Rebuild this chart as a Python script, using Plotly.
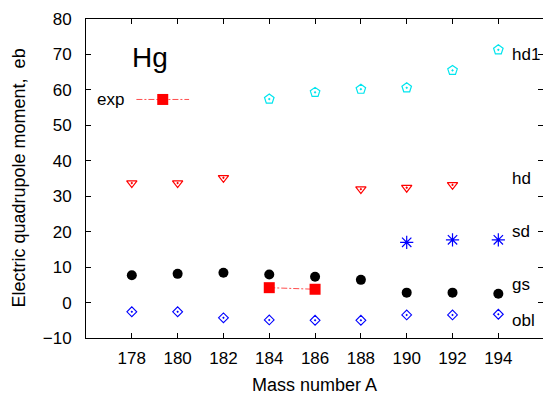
import plotly.graph_objects as go

# Quadrupole moments of Hg isotopes (eb) versus mass number
mass_all = [178, 180, 182, 184, 186, 188, 190, 192, 194]
gs = [7.7, 8.1, 8.4, 7.9, 7.3, 6.4, 2.8, 2.8, 2.5]
obl = [-2.6, -2.6, -4.3, -4.9, -5.0, -5.0, -3.5, -3.5, -3.3]

mass_hd1 = [184, 186, 188, 190, 192, 194]
hd1 = [57.4, 59.3, 60.2, 60.6, 65.5, 71.3]

mass_hd = [178, 180, 182, 188, 190, 192]
hd = [33.7, 33.7, 35.2, 32.0, 32.4, 33.2]

mass_sd = [190, 192, 194]
sd = [17.0, 17.7, 17.7]

mass_exp = [184, 186]
exp_q = [4.2, 3.75]

x_ticks = [178, 180, 182, 184, 186, 188, 190, 192, 194]
y_ticks = [-10, 0, 10, 20, 30, 40, 50, 60, 70, 80]

# Series name labels drawn to the right of the data
label_names = ["hd1", "hd", "sd", "gs", "obl"]
label_levels = [70, 35, 20, 5, -5]

FONT = "Liberation Sans, Arial, sans-serif"
RED = "#ff0000"
BLUE = "#0000ff"
CYAN = "#00e5ee"
DASHDOT = "6px,2px,2px,2px"

fig = go.Figure()

fig.add_trace(go.Scatter(
    x=mass_hd1, y=hd1, mode="markers",
    marker=dict(symbol="pentagon-open-dot", size=10, color=CYAN, line=dict(width=1.2)),
))
fig.add_trace(go.Scatter(
    x=mass_hd, y=hd, mode="markers",
    marker=dict(symbol="triangle-down-open-dot", size=9, color=RED, line=dict(width=1.2)),
))
fig.add_trace(go.Scatter(
    x=mass_sd, y=sd, mode="markers",
    marker=dict(symbol="asterisk-open", size=11, color=BLUE, line=dict(width=1.2, color=BLUE)),
))
fig.add_trace(go.Scatter(
    x=mass_all, y=gs, mode="markers",
    marker=dict(symbol="circle", size=10, color="black"),
))
fig.add_trace(go.Scatter(
    x=mass_all, y=obl, mode="markers",
    marker=dict(symbol="diamond-open-dot", size=7.5, color=BLUE, line=dict(width=1.1)),
))
fig.add_trace(go.Scatter(
    x=mass_exp, y=exp_q, mode="lines+markers",
    line=dict(color="rgba(255,0,0,0.7)", width=1, dash=DASHDOT),
    marker=dict(symbol="square", size=11, color=RED),
))

annotations = []
for name, level in zip(label_names, label_levels):
    annotations.append(dict(
        x=194.5, y=level, xref="x", yref="y", text=name, showarrow=False,
        xanchor="left", yanchor="middle", font=dict(family=FONT, size=17, color="black"),
    ))

# Element symbol
annotations.append(dict(
    x=178.8, y=69, xref="x", yref="y", text="Hg", showarrow=False,
    xanchor="center", yanchor="middle", font=dict(family=FONT, size=28, color="black"),
))

# Key entry for the experimental values
annotations.append(dict(
    x=177.75, y=57.3, xref="x", yref="y", text="exp", showarrow=False,
    xanchor="right", yanchor="middle", font=dict(family=FONT, size=17, color="black"),
))

# Axis titles
annotations.append(dict(
    x=0.5, y=0, xref="paper", yref="paper", yshift=-47, text="Mass number A",
    showarrow=False, xanchor="center", yanchor="middle", borderpad=0,
    font=dict(family=FONT, size=18, color="black"),
))
annotations.append(dict(
    x=0, y=0.5, xref="paper", yref="paper", xshift=-68, text="Electric quadrupole moment,  eb",
    showarrow=False, xanchor="center", yanchor="middle", textangle=-90,
    font=dict(family=FONT, size=18, color="black"),
))

shapes = [
    dict(type="line", xref="x", yref="y", x0=178.2, x1=180.5, y0=57.3, y1=57.3,
         line=dict(color="rgba(255,0,0,0.7)", width=1, dash=DASHDOT)),
    dict(type="rect", xref="x", yref="y", xsizemode="pixel", ysizemode="pixel",
         xanchor=179.35, yanchor=57.3, x0=-5.5, x1=5.5, y0=-5.5, y1=5.5,
         fillcolor=RED, line=dict(width=0)),
]

fig.update_layout(
    width=543, height=396,
    margin=dict(l=86, r=0, t=19, b=58),
    paper_bgcolor="white", plot_bgcolor="white",
    showlegend=False,
    annotations=annotations,
    shapes=shapes,
    font=dict(family=FONT, size=17, color="black"),
    xaxis=dict(
        range=[176, 195.95], tickvals=x_ticks, ticks="inside", ticklen=5,
        tickcolor="black", showline=True, linecolor="black", linewidth=1,
        mirror="ticks", showgrid=False, zeroline=False, ticklabelstandoff=5,
        tickfont=dict(family=FONT, size=17, color="black"),
    ),
    yaxis=dict(
        range=[-10, 80], tickvals=y_ticks, ticks="inside", ticklen=5,
        tickcolor="black", showline=True, linecolor="black", linewidth=1,
        mirror="ticks", showgrid=False, zeroline=False, ticklabelstandoff=10,
        tickfont=dict(family=FONT, size=17, color="black"),
    ),
)

fig.write_html("out.html")
